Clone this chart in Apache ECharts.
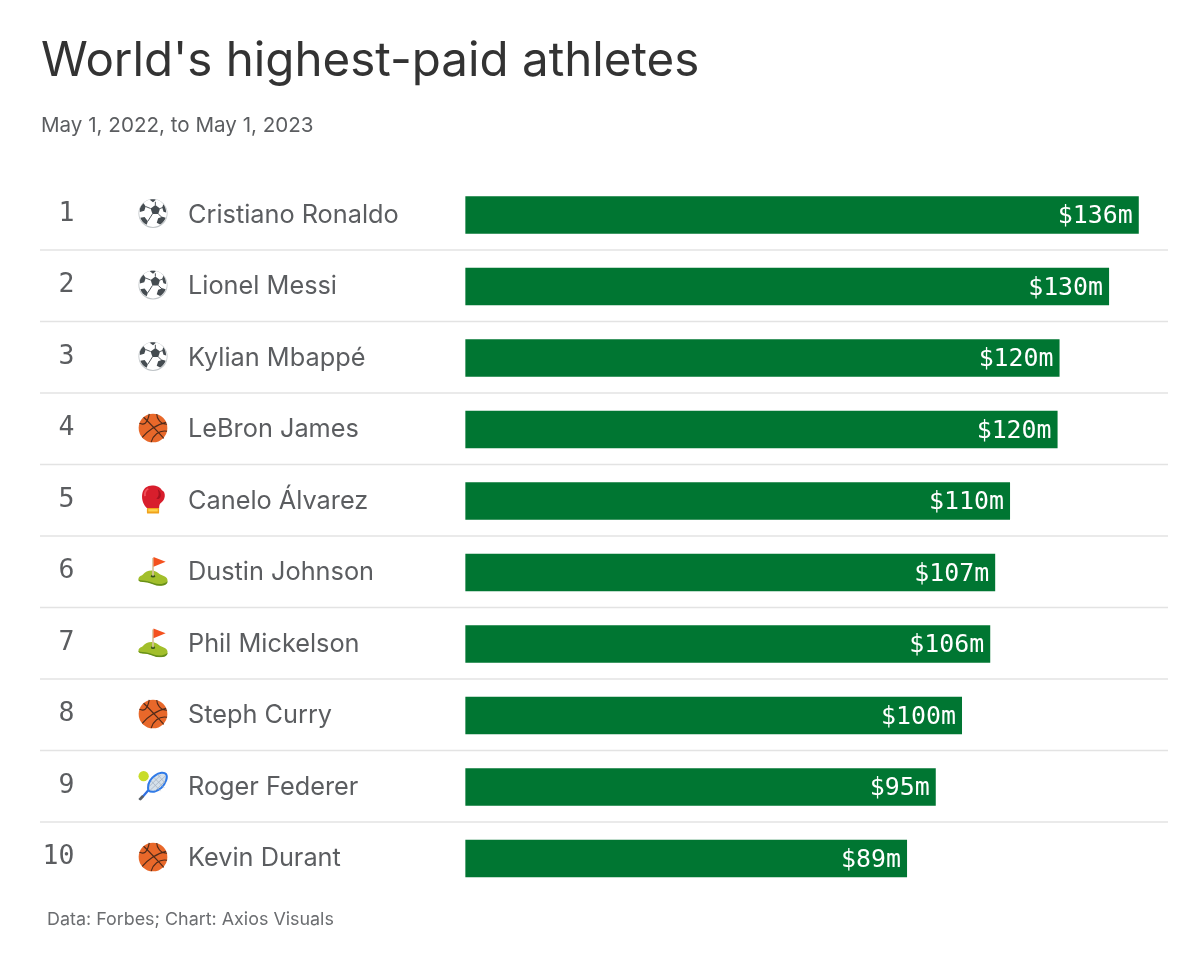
<!DOCTYPE html>
<html lang="en">
<head>
<meta charset="UTF-8">
<title>World's highest-paid athletes</title>
<script src="https://cdn.jsdelivr.net/npm/echarts@6/dist/echarts.min.js"></script>
<style>
  html, body { margin: 0; padding: 0; background: #fff; }
  #container { width: 1200px; height: 959px; }
</style>
</head>
<body>
<div id="container"></div>
<script>
const ranks = ['1', '2', '3', '4', '5', '6', '7', '8', '9', '10'];
const athletes = ['Cristiano Ronaldo', 'Lionel Messi', 'Kylian Mbappé', 'LeBron James', 'Canelo Álvarez',
  'Dustin Johnson', 'Phil Mickelson', 'Steph Curry', 'Roger Federer', 'Kevin Durant'];
const sports = ['soccer', 'soccer', 'soccer', 'basketball', 'boxing', 'golf', 'golf', 'basketball', 'tennis', 'basketball'];
const earnings = [136, 130, 120, 119.6, 110, 107, 106, 100.3, 95, 89.2];
const earningLabels = ['$136m', '$130m', '$120m', '$120m', '$110m', '$107m', '$106m', '$100m', '$95m', '$89m'];

const svg = (body) => 'data:image/svg+xml;utf8,' + encodeURIComponent(
  '<svg xmlns="http://www.w3.org/2000/svg" viewBox="0 0 32 32">' + body + '</svg>');

// 运动图标: 没有 emoji 字体, 用内联 svg 画
const icons = {
  soccer: svg(
    '<circle cx="16" cy="16" r="15.500" fill="#bfc4c7"/>' +
    '<circle cx="16" cy="15.600" r="14.700" fill="#fff"/>' +
    '<path d="M18.500 7l5 3.700-1.900 5.800h-6.200l-1.900-5.800z" fill="#454c51"/>' +
    '<path d="M12.500 1.300c2.500-.6 4.500-.6 6.500 0l-3 2.700zM2 11c.8-2.500 2-4.500 4-6l2.200 3.500-1.500 4.500-4.700 1.500zM27 6c2 2.500 3 5.500 3 9l-2.800-1-1.400-4.500zM2.500 20.500l4.500-.8 3.500 4.500-1.200 3.800c-3.200-1.500-5.600-4.200-6.800-7.500zM29.500 20.500c-1 3-3.200 5.500-6 7.300l-3.500-2 1.500-4.800 4.500-1.500z" fill="#454c51"/>' +
    '<path d="M18.500 7V3.500M13.500 10.700L8 8.500M23.500 10.700l3-1.200M15.400 16.500L10.500 24.200M21.600 16.500l4.400 4" stroke="#454c51" stroke-width="1"/>'),
  basketball: svg(
    '<circle cx="16" cy="16" r="15.300" fill="#e8682a"/>' +
    '<path d="M6 4.500C12 10 20 19 27.500 27M30 10C20 12 9 20 4.500 26M1.500 11C6 13 10 12 12 1M14 31C16 24 22 18 31 19.500M20 1C20 6 24 12 31 12" fill="none" stroke="#4e2a1a" stroke-width="1.200"/>'),
  boxing: svg(
    '<path d="M10 25.500C6 22 3.500 16 4.500 10 5.500 4 10 1 15 1s9 2 10.500 5c2.500 1 3.500 4 3 7-.6 4-3 5.500-4.500 7-1 1-1.500 3-1.500 5.500z" fill="#d81e2c"/>' +
    '<path d="M21 5c2.500 1.500 4 5 3 8-.8 2.500-3 3-4.500 2 1.500-1 2.500-3 2.500-5 0-2-.5-3.500-1-5z" fill="#a5121f"/>' +
    '<path d="M11 4.500c-3 1.500-4 5-3.500 8" fill="none" stroke="#f0505a" stroke-width="2"/>' +
    '<rect x="9.500" y="25" width="13" height="6" rx="1" fill="#f0a21c"/>' +
    '<rect x="11" y="26.300" width="10" height="2.500" fill="#ffd24d"/>'),
  golf: svg(
    '<path d="M.5 25c0-3.500 3-3.500 5-5.500 2-2.500 5-4 9-4 4.500 0 7 3 10 4.500 3 1.200 7 2.500 7 6 0 3.500-3.500 5.500-8 5.500-5 0-8-2.500-13-3.500C6 27.500.5 28.500.5 25z" fill="#a2bf2b"/>' +
    '<path d="M.5 25c2 1.300 6 .8 10 1.800 4 1 8 3 12 3 4 0 7-1 9-3 .3 3-3.500 5-8.500 5s-8-2.500-13-3.500C6 27.500.5 28 .5 25z" fill="#678f1a"/>' +
    '<ellipse cx="16" cy="21.500" rx="2.200" ry="1.400" fill="#38531a"/>' +
    '<path d="M16 21V2" stroke="#d8c39c" stroke-width="1.800"/>' +
    '<path d="M16.500 1l13 5-13 5.500z" fill="#f4511e"/>'),
  tennis: svg(
    '<path d="M5 28l6-7" stroke="#2f6fe0" stroke-width="2.400"/>' +
    '<path d="M1.500 31.500L5.500 27" stroke="#5a6068" stroke-width="3"/>' +
    '<path d="M11 21c-1-6 2-12 7-15.500 4.500-3.500 10-4 12-1.500 2 3-.5 10-5 14.500-5 4.500-11 5.500-14 2.500z" fill="#d5e0ea" stroke="#2f7ae8" stroke-width="2.200"/>' +
    '<path d="M14 11l10 11M17 7.500l11 11M21 4.500l8 9M12 17L24 5M13 21L29 6M18 22l11-11" stroke="#a4b2c2" stroke-width=".8"/>' +
    '<circle cx="6" cy="6" r="5.500" fill="#c8dc2a"/>')
};

const MONO = '"DejaVu Sans Mono", monospace';
const SANS = 'Inter, "Noto Sans", sans-serif';
const INK = '#5b5d60';

const chart = echarts.init(document.getElementById('container'), null, { renderer: 'canvas' });

const option = {
  animation: false,
  backgroundColor: '#fff',
  title: [
    { text: "World's highest-paid athletes", left: 41, top: 38, padding: 0,
      textStyle: { fontFamily: SANS, fontSize: 47.500, fontWeight: 400, color: '#333' } },
    { text: 'May 1, 2022, to May 1, 2023', left: 41, top: 115, padding: 0,
      textStyle: { fontFamily: SANS, fontSize: 20.600, fontWeight: 400, color: INK } },
    { text: 'Data: Forbes; Chart: Axios Visuals', left: 47, top: 911, padding: 0,
      textStyle: { fontFamily: SANS, fontSize: 17.900, fontWeight: 400, color: '#6b6d70' } }
  ],
  // grid 横跨分隔线的宽度, x 轴负值部分留给排名和姓名
  grid: { left: 40, right: 32, top: 179.250, height: 715 },
  xAxis: { type: 'value', min: -85.9, max: 141.9, show: false },
  yAxis: {
    type: 'category',
    inverse: true,
    data: athletes,
    axisLine: { show: false },
    axisTick: { show: false },
    axisLabel: {
      inside: true,
      margin: 148,
      fontFamily: SANS,
      fontSize: 25.300,
      color: INK
    },
    splitLine: { show: false }
  },
  series: [
    {
      type: 'bar',
      data: earnings,
      barWidth: 37.500,
      itemStyle: { color: '#007632' },
      label: {
        show: true,
        position: 'insideRight',
        distance: 6,
        offset: [0, 2],
        fontFamily: MONO,
        fontSize: 24.900,
        color: '#fff',
        formatter: (p) => earningLabels[p.dataIndex]
      }
    },
    {
      type: 'custom',
      data: ranks.map((r, i) => [0, i]),
      encode: { x: 0, y: 1 },
      renderItem: (params, api) => {
        const i = params.dataIndex;
        const y = api.coord([0, i])[1];
        const children = [
          { type: 'text', style: { text: ranks[i], x: 74.500, y: y - 1, align: 'right', verticalAlign: 'middle',
            font: '26.500px ' + MONO, fill: INK } },
          { type: 'image', style: { image: icons[sports[i]], x: 138, y: y - 16.500, width: 30, height: 30 } }
        ];
        // 分隔线不在两行正中, 比 splitLine 略靠上
        if (i < ranks.length - 1) {
          children.push({ type: 'line', shape: { x1: 40, y1: y + 35, x2: 1168, y2: y + 35 },
            style: { stroke: '#e3e3e3', lineWidth: 1.500 } });
        }
        return { type: 'group', children };
      }
    }
  ]
};

chart.setOption(option);
</script>
</body>
</html>
